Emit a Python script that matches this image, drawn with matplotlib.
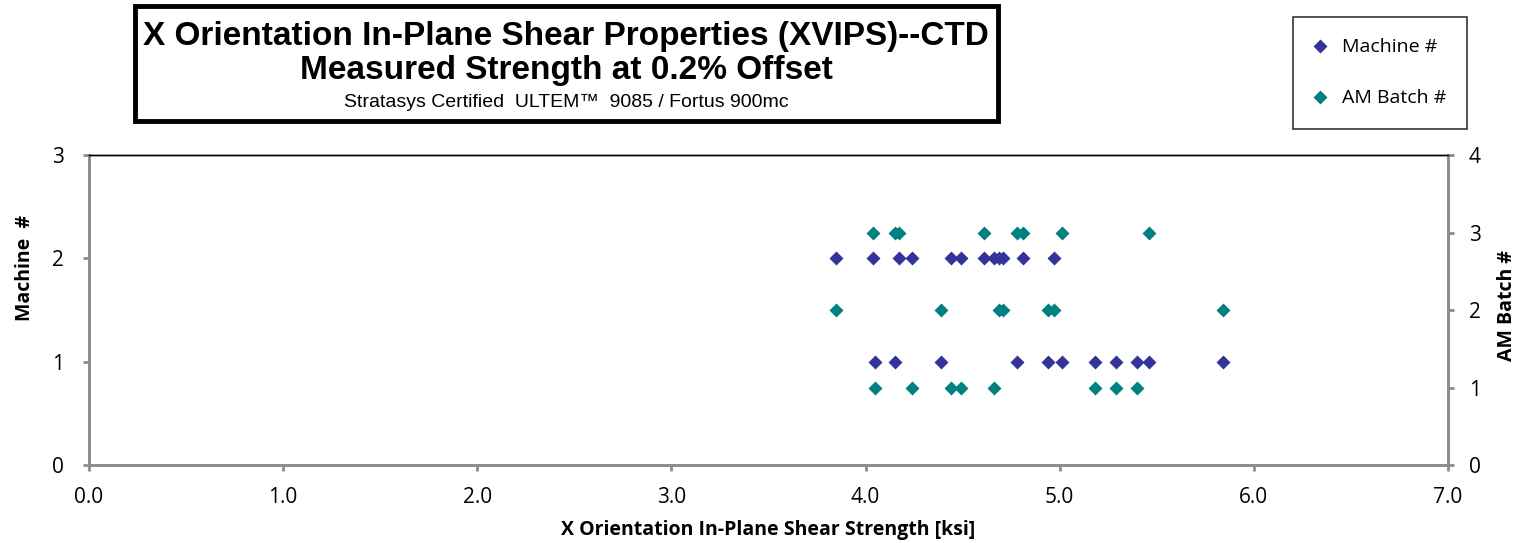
import matplotlib.pyplot as plt
from matplotlib.patches import Rectangle

# strength values [ksi] with machine # and AM batch # of each specimen
strength = [3.85, 4.04, 4.17, 4.24, 4.44, 4.49, 4.61, 4.66, 4.69, 4.71, 4.81, 4.97,
            4.05, 4.15, 4.39, 4.78, 4.94, 5.01, 5.18, 5.29, 5.40, 5.46, 5.84]
machine = [2, 2, 2, 2, 2, 2, 2, 2, 2, 2, 2, 2,
           1, 1, 1, 1, 1, 1, 1, 1, 1, 1, 1]
batch = [2, 3, 3, 1, 1, 1, 3, 1, 2, 2, 3, 2,
         1, 3, 2, 3, 2, 3, 1, 1, 1, 3, 2]

x_ticks = [0, 1, 2, 3, 4, 5, 6, 7]
left_ticks = [0, 1, 2, 3]
right_ticks = [0, 1, 2, 3, 4]

col_machine = '#333399'
col_batch = '#008080'
frame = '#8c8c8c'

plt.rcParams['font.family'] = ['Open Sans', 'DejaVu Sans']

fig = plt.figure(figsize=(15.24, 5.43), dpi=100)
ax = fig.add_axes([0.0584, 0.1436, 0.8917, 0.5709])
ax2 = ax.twinx()

l1, = ax.plot(strength, machine, 'D', color=col_machine, ms=7, mec='none', label='Machine #')
l2, = ax2.plot(strength, batch, 'D', color=col_batch, ms=7, mec='none', label='AM Batch #')

ax.set_xlim(0, 7)
ax.set_ylim(0, 3)
ax2.set_ylim(0, 4)
ax.set_xticks(x_ticks)
ax.set_xticklabels(['%.1f' % v for v in x_ticks])
ax.set_yticks(left_ticks)
ax2.set_yticks(right_ticks)

for a in (ax, ax2):
    for s in a.spines.values():
        s.set_color(frame)
        s.set_linewidth(2)
    a.spines['top'].set_color('black')
    a.spines['top'].set_linewidth(1)
    a.tick_params(colors=frame, labelcolor='black', labelsize=15, length=4, width=2)
ax.tick_params(axis='x', pad=12)
ax.tick_params(axis='y', pad=14)
ax2.tick_params(axis='y', pad=11)

ax.set_xlabel('X Orientation In-Plane Shear Strength [ksi]', fontsize=14, fontweight='bold')
ax.set_ylabel('Machine  #', fontsize=14, fontweight='bold')
ax2.set_ylabel('AM Batch #', fontsize=14, fontweight='bold', rotation=90)
ax.xaxis.set_label_coords(0.5, -0.177)
ax.yaxis.set_label_coords(-0.0397, 0.635)
ax2.yaxis.set_label_coords(1.036, 0.513)

# title box
fig.patches.append(Rectangle((135 / 1524, 1 - 121 / 543), 863 / 1524, 115 / 543,
                             transform=fig.transFigure, fill=False, ec='black', lw=3.5))
narrow = ['Liberation Sans Narrow', 'Liberation Sans', 'DejaVu Sans']
fig.text(566 / 1524, 1 - 37 / 543, 'X Orientation In-Plane Shear Properties (XVIPS)--CTD',
         ha='center', va='center', fontsize=24, fontweight='bold', family=narrow)
fig.text(566 / 1524, 1 - 71 / 543, 'Measured Strength at 0.2% Offset',
         ha='center', va='center', fontsize=24, fontweight='bold', family=narrow)
fig.text(566 / 1524, 1 - 102 / 543, 'Stratasys Certified  ULTEM\u2122  9085 / Fortus 900mc',
         ha='center', va='center', fontsize=14, family=narrow)

leg = fig.legend(handles=[l1, l2], loc='upper left', bbox_to_anchor=(1293 / 1524, 1 - 17 / 543),
                 frameon=True, fancybox=False, edgecolor='black', fontsize=14,
                 handlelength=0.6, handletextpad=0.8, labelspacing=1.7, borderpad=1.1,
                 borderaxespad=0)
leg.get_frame().set_linewidth(1.2)

fig.savefig('out.png', dpi=100)
